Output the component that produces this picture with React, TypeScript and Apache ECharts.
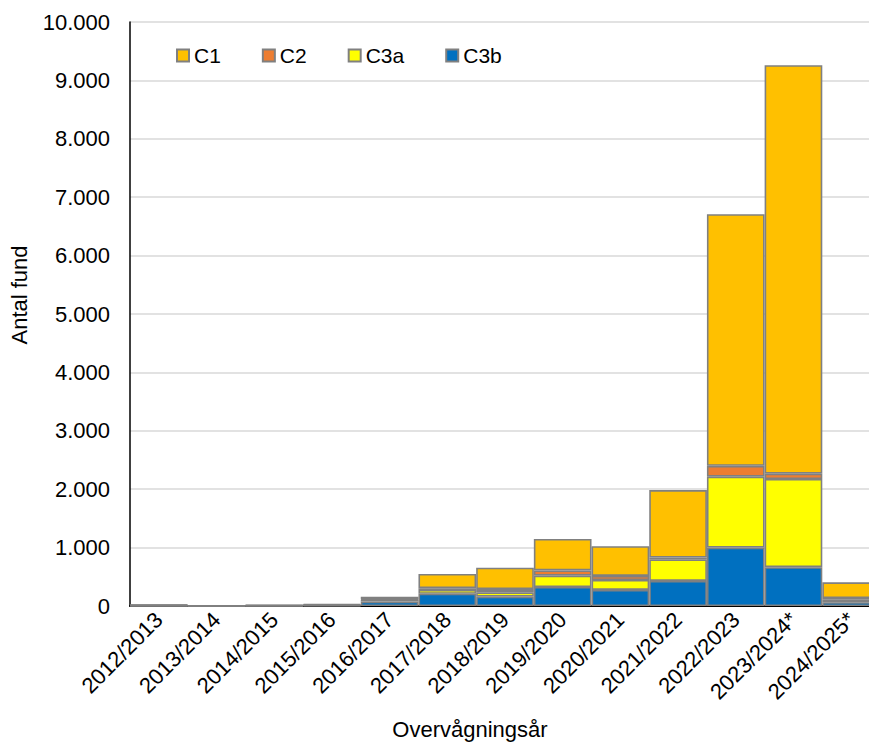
import React, { useEffect, useRef } from "react";
import * as echarts from "echarts";

const categories = [
  "2012/2013", "2013/2014", "2014/2015", "2015/2016", "2016/2017", "2017/2018",
  "2018/2019", "2019/2020", "2020/2021", "2021/2022", "2022/2023", "2023/2024*", "2024/2025*",
];
const c3b = [5, 1, 4, 8, 75, 210, 160, 325, 275, 430, 1000, 665, 65];
const c3a = [4, 1, 3, 6, 30, 65, 75, 195, 170, 370, 1215, 1510, 40];
const c2 = [2, 0, 2, 3, 10, 30, 55, 90, 70, 30, 185, 90, 30];
const c1 = [12, 3, 8, 15, 45, 245, 365, 537, 510, 1155, 4310, 6995, 270];
const yTicks = [0, 1000, 2000, 3000, 4000, 5000, 6000, 7000, 8000, 9000, 10000];

const FONT = "'Liberation Sans', Arial, sans-serif";

export default function App() {
  const ref = useRef<HTMLDivElement>(null);
  useEffect(() => {
    if (!ref.current) return;
    const chart = echarts.init(ref.current, null, { renderer: "svg" });
    const mk = (name: string, data: number[], color: string) => ({
      name,
      type: "bar",
      stack: "total",
      data,
      barWidth: "100%",
      barCategoryGap: "0%",
      itemStyle: { color, borderColor: "#808080", borderWidth: 1.6 },
    });
    chart.setOption({
      animation: false,
      textStyle: { fontFamily: FONT },
      grid: { left: 130, right: -11, top: 22, bottom: 139, outerBoundsMode: "none", containLabel: false },
      legend: {
        data: ["C1", "C2", "C3a", "C3b"],
        icon: "rect",
        left: 171,
        top: 40,
        itemWidth: 12,
        itemHeight: 12,
        itemGap: 41,
        textStyle: { fontFamily: FONT, fontSize: 21, color: "#000" },
      },
      xAxis: {
        type: "category",
        data: categories,
        name: "Overvågningsår",
        nameLocation: "middle",
        nameGap: 112,
        nameTextStyle: { fontFamily: FONT, fontSize: 22, color: "#000", padding: [0, 70, 0, 0] },
        axisLine: { lineStyle: { color: "#000", width: 2 } },
        axisTick: { show: false },
        axisLabel: { rotate: 45, fontFamily: FONT, fontSize: 22, color: "#000", margin: 10 },
      },
      yAxis: {
        type: "value",
        min: 0,
        max: 10000,
        interval: 1000,
        name: "Antal fund",
        nameLocation: "middle",
        nameGap: 100,
        nameTextStyle: { fontFamily: FONT, fontSize: 22, color: "#000", padding: [0, 0, 0, 38] },
        axisLine: { show: true, lineStyle: { color: "#000", width: 1.5 } },
        axisTick: { show: false },
        splitLine: { lineStyle: { color: "#D9D9D9", width: 1.5 } },
        axisLabel: {
          fontFamily: FONT,
          fontSize: 22,
          color: "#000",
          margin: 20,
          formatter: (v: number) => (yTicks.includes(v) ? v.toLocaleString("de-DE") : ""),
        },
      },
      series: [
        mk("C3b", c3b, "#0070C0"),
        mk("C3a", c3a, "#FFFF00"),
        mk("C2", c2, "#ED7D31"),
        mk("C1", c1, "#FFC000"),
      ],
    });
    return () => chart.dispose();
  }, []);
  return (
    <div
      ref={ref}
      style={{ position: "fixed", left: 0, top: 0, width: 869, height: 745, background: "#fff" }}
    />
  );
}
